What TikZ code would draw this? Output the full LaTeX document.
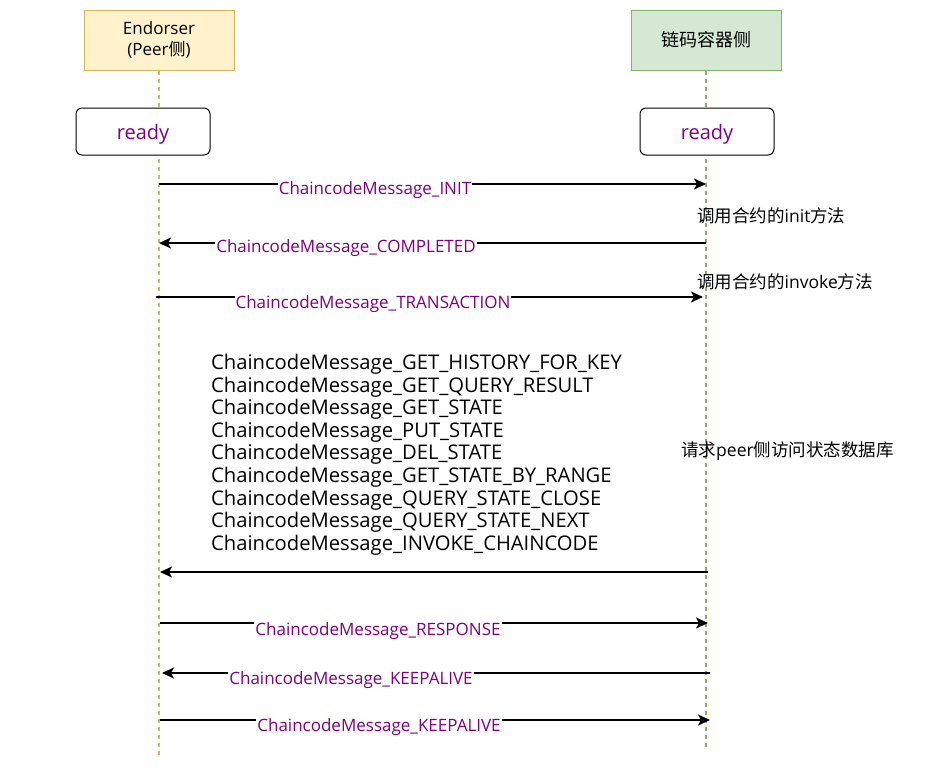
\documentclass[tikz,border=0pt]{standalone}
\usepackage{fontspec}
\setmainfont{Open Sans}
\newfontfamily\cjk{Noto Sans CJK SC}
\usetikzlibrary{arrows.meta}
\definecolor{purp}{RGB}{128,0,128}
\definecolor{yfill}{HTML}{FFF2CC}
\definecolor{ydraw}{HTML}{D6B656}
\definecolor{gfill}{HTML}{D5E8D4}
\definecolor{gdraw}{HTML}{82B366}
\begin{document}
\begin{tikzpicture}[x=1pt,y=-1pt,
  actor/.style={draw, line width=1pt, minimum width=150pt, minimum height=60pt, inner sep=0pt, align=center, font=\fontsize{17}{20}\selectfont},
  readybox/.style={draw, rounded corners=6pt, line width=1pt, minimum width=134pt, minimum height=47pt, inner sep=0pt},
  readytxt/.style={inner sep=0pt, text=purp, font=\fontsize{20}{24}\selectfont},
  life/.style={dashed, dash pattern=on 4pt off 4pt, line width=1.1pt},
  msg/.style={line width=1.3pt, -{Stealth[length=12pt,width=11pt,inset=3pt]}},
  lbl/.style={fill=white, inner sep=1pt, text=purp, font=\fontsize{17}{20}\selectfont},
  note/.style={anchor=west, inner sep=0pt, font=\fontsize{17.5}{20}\selectfont},
]
\useasboundingbox (0,0) rectangle (946,777);
% actors
\node[actor, fill=yfill, draw=ydraw] (E) at (159,40) {Endorser\\[1pt](Peer{\cjk 侧})};
\node[actor, fill=gfill, draw=gdraw] (C) at (706,40) {{\cjk\fontsize{18}{20}\selectfont 链码容器侧}};
\coordinate (Eend) at (159,755);
\coordinate (Cend) at (706,750);
\draw[life, draw=ydraw] (E.south) -- (Eend);
\draw[life, draw=gdraw] (C.south) -- (Cend);
% ready
\node[readybox, fill=white] (R1) at (143,131.5) {};
\node[readytxt] (R1t) at (143,134.5) {ready};
\node[readybox, fill=white] (R2) at (707,131.5) {};
\node[readytxt] (R2t) at (707,134.5) {ready};
% message end points
\coordinate (a1s) at (159,184); \coordinate (a1e) at (706,184);
\coordinate (a2s) at (706,243); \coordinate (a2e) at (159,243);
\coordinate (a3s) at (156,297); \coordinate (a3e) at (703,297);
\coordinate (a4s) at (708,572); \coordinate (a4e) at (160,572);
\coordinate (a5s) at (160,623); \coordinate (a5e) at (708,623);
\coordinate (a6s) at (710,673); \coordinate (a6e) at (162,673);
\coordinate (a7s) at (160,720); \coordinate (a7e) at (710,720);
\draw[msg] (a1s) -- (a1e);
\node[lbl] (l1) at (375,190) {ChaincodeMessage\_INIT};
\draw[msg] (a2s) -- (a2e);
\node[lbl] (l2) at (346,248) {ChaincodeMessage\_COMPLETED};
\draw[msg] (a3s) -- (a3e);
\node[lbl] (l3) at (373,304) {ChaincodeMessage\_TRANSACTION};
\draw[msg] (a4s) -- (a4e);
\draw[msg] (a5s) -- (a5e);
\node[lbl] (l5) at (378,631) {ChaincodeMessage\_RESPONSE};
\draw[msg] (a6s) -- (a6e);
\node[lbl] (l6) at (351,680) {ChaincodeMessage\_KEEPALIVE};
\draw[msg] (a7s) -- (a7e);
\node[lbl] (l7) at (379,727) {ChaincodeMessage\_KEEPALIVE};
% notes
\node[note] (n1) at (697,216) {{\cjk 调用合约的}init{\cjk 方法}};
\node[note] (n2) at (697,282) {{\cjk 调用合约的}invoke{\cjk 方法}};
\node[note] (n3) at (681,451) {{\cjk 请求}peer{\cjk 侧访问状态数据库}};
% list
\node[anchor=north west, inner sep=0pt, align=left, font=\fontsize{20.2}{22.6}\selectfont] (list) at (211,354) {ChaincodeMessage\_GET\_HISTORY\_FOR\_KEY\\
ChaincodeMessage\_GET\_QUERY\_RESULT\\
ChaincodeMessage\_GET\_STATE\\
ChaincodeMessage\_PUT\_STATE\\
ChaincodeMessage\_DEL\_STATE\\
ChaincodeMessage\_GET\_STATE\_BY\_RANGE\\
ChaincodeMessage\_QUERY\_STATE\_CLOSE\\
ChaincodeMessage\_QUERY\_STATE\_NEXT\\
ChaincodeMessage\_INVOKE\_CHAINCODE};
\end{tikzpicture}
\end{document}
